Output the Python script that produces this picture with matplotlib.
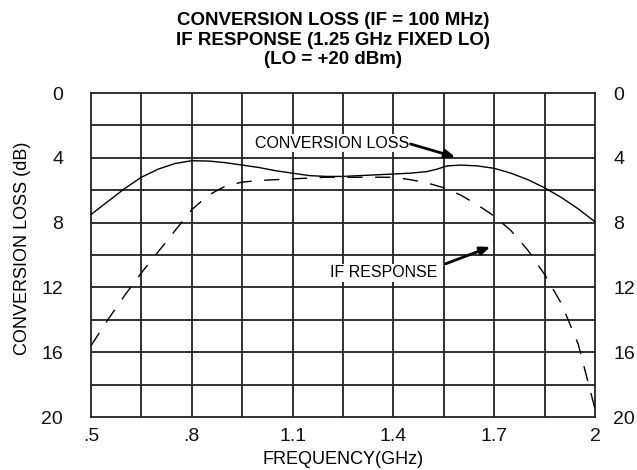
import matplotlib
matplotlib.use("Agg")
import matplotlib.pyplot as plt
from matplotlib import font_manager

names = {f.name for f in font_manager.fontManager.ttflist}
narrow = "Liberation Sans Narrow" if "Liberation Sans Narrow" in names else "Liberation Sans"
plt.rcParams['font.family'] = [narrow, 'DejaVu Sans']

freq = [0.50, 0.55, 0.60, 0.65, 0.70, 0.75, 0.80, 0.85, 0.90, 0.95, 1.00, 1.05,
        1.10, 1.15, 1.20, 1.25, 1.30, 1.35, 1.40, 1.45, 1.50, 1.53, 1.56, 1.60,
        1.65, 1.70, 1.75, 1.80, 1.85, 1.90, 1.95, 2.00]
conv_loss = [7.5, 6.7, 5.9, 5.2, 4.7, 4.35, 4.18, 4.2, 4.3, 4.45, 4.6, 4.8,
             4.95, 5.1, 5.15, 5.15, 5.1, 5.05, 5.0, 4.95, 4.85, 4.7, 4.5, 4.45,
             4.5, 4.65, 4.95, 5.35, 5.85, 6.45, 7.15, 7.95]
freq_if = [0.50, 0.55, 0.60, 0.65, 0.70, 0.75, 0.80, 0.85, 0.90, 0.95, 1.00, 1.05,
           1.10, 1.15, 1.20, 1.25, 1.30, 1.35, 1.40, 1.45, 1.50, 1.55, 1.60, 1.65,
           1.70, 1.75, 1.80, 1.85, 1.90, 1.95, 2.00]
if_resp = [15.6, 14.0, 12.5, 11.1, 9.8, 8.5, 7.2, 6.3, 5.75, 5.5, 5.4, 5.35,
           5.3, 5.25, 5.2, 5.2, 5.2, 5.2, 5.2, 5.35, 5.55, 5.85, 6.3, 6.9,
           7.6, 8.5, 9.7, 11.2, 13.0, 15.5, 19.5]

x_ticks = [0.5, 0.8, 1.1, 1.4, 1.7, 2.0]
x_ticklabels = [".5", ".8", "1.1", "1.4", "1.7", "2"]
y_ticks = [0, 4, 8, 12, 16, 20]
y_ticklabels = ["0", "4", "8", "12", "16", "20"]

fig = plt.figure(figsize=(6.37, 4.70), dpi=100)
ax = fig.add_axes([91/637, 1-417/470, (595-91)/637, (417-93)/470])

ax.set_xlim(0.5, 2.0)
ax.set_ylim(20, 0)

# grid
for i in range(1, 10):
    ax.axvline(0.5 + 0.15*i, color='#222222', lw=1.3, zorder=1)
for j in range(1, 10):
    ax.axhline(2*j, color='#222222', lw=1.3, zorder=1)
for s in ax.spines.values():
    s.set_linewidth(1.3)
    s.set_color('#222222')

ax.plot(freq, conv_loss, color='black', lw=1.0, zorder=3)
ax.plot(freq_if, if_resp, color='black', lw=1.0, linestyle=(0, (11, 9)), zorder=3)

ax.set_xticks(x_ticks)
ax.set_xticklabels(x_ticklabels)
ax.set_yticks(y_ticks)
ax.set_yticklabels(y_ticklabels)
ax.tick_params(axis='both', length=0, labelsize=14, colors='#111111')
ax.tick_params(axis='y', pad=20)
ax.tick_params(axis='x', pad=8)

ax2 = ax.twinx()
ax2.set_ylim(20, 0)
ax2.set_yticks(y_ticks)
ax2.set_yticklabels(y_ticklabels)
ax2.tick_params(axis='y', length=0, labelsize=14, colors='#111111', pad=13)
for s in ax2.spines.values():
    s.set_visible(False)

ax.set_xlabel("FREQUENCY(GHz)", fontsize=13)
ax.xaxis.set_label_coords(0.5, (417-451)/324)
ax.set_ylabel("CONVERSION LOSS (dB)", fontsize=13)
ax.yaxis.set_label_coords((31-91)/504, 0.52)

fig.text(333/637, 1-12/470,
         "CONVERSION LOSS (IF = 100 MHz)\nIF RESPONSE (1.25 GHz FIXED LO)\n(LO = +20 dBm)",
         ha='center', va='top', fontsize=13.5, fontweight='bold', linespacing=1.2)

bbox = dict(facecolor='white', edgecolor='none', pad=1)
ax.text(0.988, 3.1, "CONVERSION LOSS", ha='left', va='center', fontsize=11.5,
        bbox=bbox, zorder=4)
ax.annotate("", xy=(1.592, 4.0), xytext=(1.443, 3.1),
            arrowprops=dict(arrowstyle='-|>,head_length=0.6,head_width=0.25',
                            color='black', lw=2), zorder=5)
ax.text(1.53, 11.1, "IF RESPONSE", ha='right', va='center', fontsize=11.5,
        bbox=bbox, zorder=4)
ax.annotate("", xy=(1.696, 9.44), xytext=(1.548, 10.6),
            arrowprops=dict(arrowstyle='-|>,head_length=0.6,head_width=0.25',
                            color='black', lw=2), zorder=5)

fig.savefig("out.png", dpi=100)
